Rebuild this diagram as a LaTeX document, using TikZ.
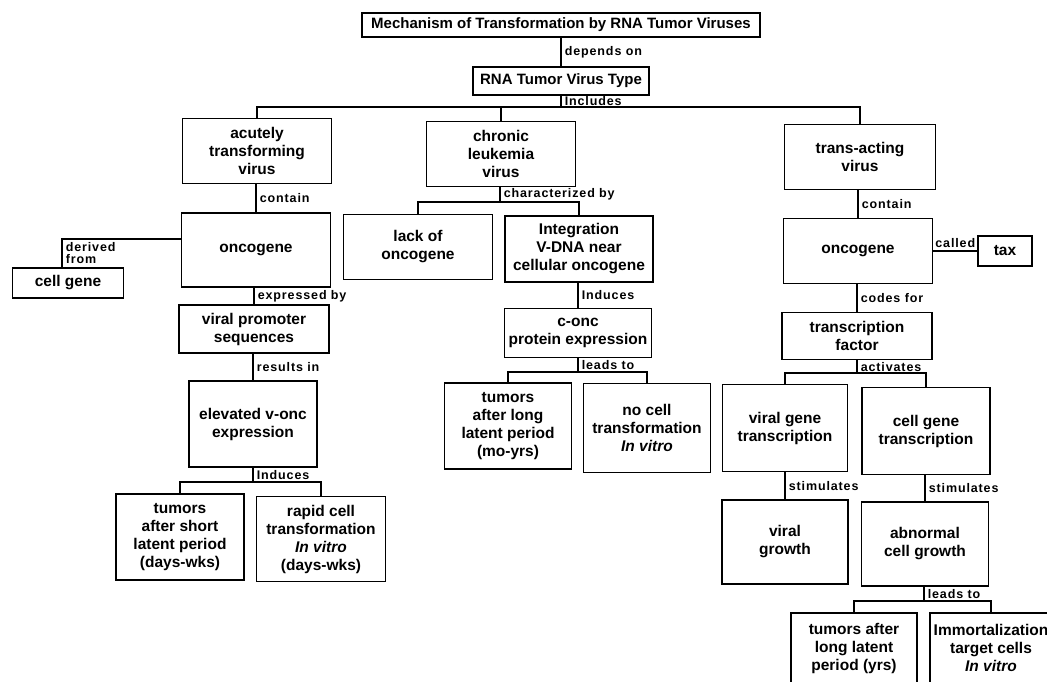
\documentclass[tikz,border=0pt]{standalone}
\usepackage{fontspec}
\setmainfont{Liberation Sans}
\newfontfamily\lblfamily[LetterSpace=7]{Liberation Sans}
\usetikzlibrary{positioning, calc}

\newcommand{\boxfont}{\fontsize{15.5}{18}\selectfont\bfseries}
\newcommand{\titlefont}{\fontsize{15}{18}\selectfont\bfseries}
\newcommand{\lblfont}{\lblfamily\fontsize{12.5}{12.5}\selectfont\bfseries}

\tikzset{
  box/.style 2 args={draw, line width=1.6pt, align=center, inner sep=2pt,
    minimum width=#1pt, minimum height=#2pt, font=\boxfont},
  lbl/.style={right, inner sep=3pt, font=\lblfont, align=left},
  link/.style={line width=1.6pt},
}

\begin{document}
\begin{tikzpicture}[x=1pt, y=-1pt]
    \useasboundingbox (0,0) rectangle (1047,681);
    \clip (0,0) rectangle (1047,681);

    % Top of the map
    \node[box={398}{24}, font=\titlefont] (title) at (561,25) {Mechanism of Transformation by RNA Tumor Viruses};
    \node[box={176}{28}, font=\titlefont] (rna) at (561,81) {RNA Tumor Virus Type};
    \draw[link] (title.south) -- node[lbl] {depends on} (rna.north);

    % Virus types
    \node[box={149}{65}] (acute) at (257,151) {acutely\\transforming\\virus};
    \node[box={149}{65}] (chronic) at (501,154) {chronic\\leukemia\\virus};
    \node[box={151}{65}] (trans) at (860,157) {trans-acting\\virus};
    \coordinate (jtype) at (561,107);
    \draw[link] (rna.south) -- node[lbl] {Includes} (jtype);
    \draw[link] (acute.north) |- (jtype) -| (trans.north);
    \draw[link] (chronic.north) -- (chronic.north |- jtype);

    % Acutely transforming branch
    \node[box={149}{74}] (oncL) at (256,250) {oncogene};
    \node[box={111}{30}] (cellgene) at (68,283) {cell gene};
    \node[box={150}{48}] (promoter) at (254,329) {viral promoter\\sequences};
    \node[box={128}{86}] (elevated) at (253,424) {elevated v-onc\\expression};
    \node[box={128}{86}] (tumshort) at (180,537) {tumors\\after short\\latent period\\(days-wks)};
    \node[box={129}{85}] (rapid) at (321,539) {rapid cell\\transformation\\\textit{In vitro}\\(days-wks)};
    \draw[link] (acute.south -| oncL.north) -- node[lbl] {contain} (oncL.north);
    \draw[link] ([yshift=11pt]oncL.west) -| node[lbl, pos=0.75] {derived\\from} ([xshift=-6pt]cellgene.north);
    \draw[link] (oncL.south -| promoter.north) -- node[lbl] {expressed by} (promoter.north);
    \draw[link] (promoter.south -| elevated.north) -- node[lbl] {results in} (elevated.north);
    \coordinate (jelev) at (253,482);
    \draw[link] (elevated.south) -- node[lbl] {Induces} (jelev);
    \draw[link] (tumshort.north) |- (jelev) -| (rapid.north);

    % Chronic leukemia branch
    \node[box={149}{65}] (lack) at (418,247) {lack of\\oncogene};
    \node[box={148}{66}] (integ) at (579,249) {Integration\\V-DNA near\\cellular oncogene};
    \node[box={147}{49}] (conc) at (578,333) {c-onc\\protein expression};
    \node[box={127}{86}] (tumlong) at (508,426) {tumors\\after long\\latent period\\(mo-yrs)};
    \node[box={127}{89}] (nocell) at (647,428) {no cell\\transformation\\\textit{In vitro}};
    \coordinate (jchronic) at (500,202);
    \draw[link] (chronic.south -| jchronic) -- node[lbl] {characterized by} (jchronic);
    \draw[link] (lack.north) |- (jchronic) -| (integ.north);
    \draw[link] (integ.south -| conc.north) -- node[lbl] {Induces} (conc.north);
    \coordinate (jconc) at (578,372);
    \draw[link] (conc.south) -- node[lbl] {leads to} (jconc);
    \draw[link] (tumlong.north) |- (jconc) -| (nocell.north);

    % Trans-acting branch
    \node[box={149}{65}] (oncR) at (858,251) {oncogene};
    \node[box={54}{30}] (tax) at (1005,251) {tax};
    \node[box={150}{47}] (tfactor) at (857,336) {transcription\\factor};
    \node[box={125}{87}] (viralgene) at (785,428) {viral gene\\transcription};
    \node[box={128}{87}] (cellgenetr) at (926,431) {cell gene\\transcription};
    \node[box={126}{84}] (viralgrowth) at (785,542) {viral\\growth};
    \node[box={127}{84}] (abnormal) at (925,544) {abnormal\\cell growth};
    \node[box={126}{70}] (tumyrs) at (854,648) {tumors after\\long latent\\period (yrs)};
    \node[box={122}{70}] (immort) at (991,648) {Immortalization\\target cells\\\textit{In vitro}};
    \draw[link] (trans.south -| oncR.north) -- node[lbl] {contain} (oncR.north);
    \draw[link] (oncR.east) -- node[lbl, above, pos=0.5] {called} (tax.west);
    \draw[link] (oncR.south -| tfactor.north) -- node[lbl] {codes for} (tfactor.north);
    \coordinate (jtf) at (857,373);
    \draw[link] (tfactor.south) -- node[lbl] {activates} (jtf);
    \draw[link] (viralgene.north) |- (jtf) -| (cellgenetr.north);
    \draw[link] (viralgene.south) -- node[lbl] {stimulates} (viralgrowth.north);
    \draw[link] (cellgenetr.south -| abnormal.north) -- node[lbl] {stimulates} (abnormal.north);
    \coordinate (jabn) at (924,601);
    \draw[link] (abnormal.south -| jabn) -- node[lbl] {leads to} (jabn);
    \draw[link] (tumyrs.north) |- (jabn) -| (immort.north);
\end{tikzpicture}
\end{document}
